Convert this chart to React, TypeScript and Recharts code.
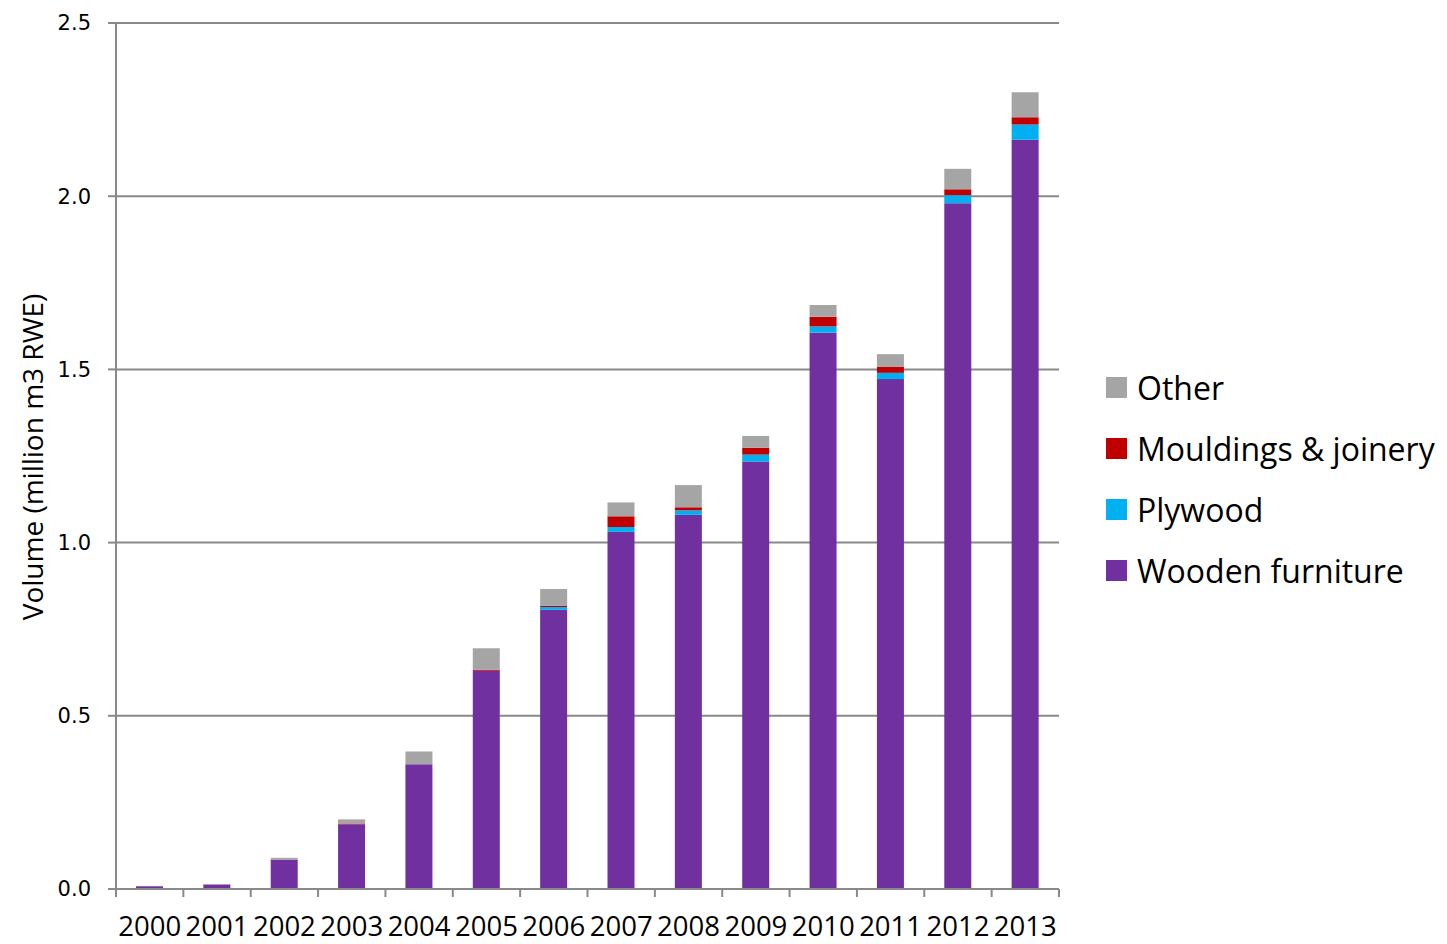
import React from 'react';
import { BarChart, Bar, XAxis, YAxis, CartesianGrid } from 'recharts';

// Years on the category axis
const years = ['2000', '2001', '2002', '2003', '2004', '2005', '2006', '2007', '2008', '2009', '2010', '2011', '2012', '2013'];

// Volumes in million m3 RWE
const woodenFurniture = [0.008, 0.013, 0.085, 0.187, 0.36, 0.63, 0.806, 1.031, 1.08, 1.234, 1.606, 1.472, 1.98, 2.163];
const plywood = [0, 0, 0, 0, 0, 0, 0.008, 0.014, 0.013, 0.02, 0.018, 0.018, 0.023, 0.044];
const mouldings = [0, 0, 0, 0.002, 0, 0.003, 0.004, 0.031, 0.009, 0.02, 0.028, 0.018, 0.017, 0.021];
const other = [0.001, 0.001, 0.005, 0.012, 0.037, 0.062, 0.048, 0.04, 0.064, 0.034, 0.034, 0.036, 0.059, 0.072];

const yTicks = [0, 0.5, 1.0, 1.5, 2.0, 2.5];

const series = [
  { key: 'furniture', name: 'Wooden furniture', color: '#7030A0', values: woodenFurniture },
  { key: 'plywood', name: 'Plywood', color: '#00B0F0', values: plywood },
  { key: 'mouldings', name: 'Mouldings & joinery', color: '#C00000', values: mouldings },
  { key: 'other', name: 'Other', color: '#A5A5A5', values: other },
];

const data = years.map((year, i) => {
  const row: Record<string, string | number> = { year };
  series.forEach((s) => {
    row[s.key] = s.values[i];
  });
  return row;
});

const W = 1447;
const H = 944;
const M = { top: 23, right: 388, left: 0, bottom: 0 };
const Y_AXIS_W = 116;
const X_AXIS_H = 55;
const plotW = W - M.left - M.right - Y_AXIS_W;
const band = plotW / years.length;
const GRID = '#898989';

// Excel style: tick marks sit between categories, label in the middle
const XTick = (props: any) => {
  const { x, y, payload, index } = props;
  const left = x - band / 2;
  const axisY = y - 8;
  return (
    <g>
      <line x1={left} y1={axisY} x2={left} y2={axisY + 8} stroke={GRID} strokeWidth={2} />
      {index === years.length - 1 && (
        <line x1={left + band} y1={axisY} x2={left + band} y2={axisY + 8} stroke={GRID} strokeWidth={2} />
      )}
      <text x={x} y={axisY + 47} textAnchor="middle" fontFamily="'Open Sans', sans-serif" fontSize={27.5} fill="#000">
        {payload.value}
      </text>
    </g>
  );
};

const YLabel = () => (
  <text
    x={32}
    y={457}
    transform="rotate(-90 32 457)"
    textAnchor="middle"
    dominantBaseline="central"
    fontFamily="'Liberation Sans Narrow', 'Open Sans', sans-serif"
    fontSize={28}
    fill="#000"
  >
    Volume (million m3 RWE)
  </text>
);

const legendItems = [...series].reverse();

export default function App() {
  return (
    <div style={{ position: 'absolute', left: 0, top: 0, width: W, height: H, background: '#fff' }}>
      <BarChart width={W} height={H} data={data} margin={M} barSize={27}>
        <CartesianGrid vertical={false} stroke={GRID} strokeWidth={2} />
        <XAxis
          dataKey="year"
          height={X_AXIS_H}
          axisLine={{ stroke: GRID, strokeWidth: 2 }}
          tickLine={false}
          tick={<XTick />}
          interval={0}
        />
        <YAxis
          width={Y_AXIS_W}
          domain={[0, 2.5]}
          ticks={yTicks}
          interval={0}
          axisLine={{ stroke: GRID, strokeWidth: 2 }}
          tickLine={{ stroke: GRID, strokeWidth: 2 }}
          tickSize={8}
          tickMargin={17}
          tickFormatter={(v: number) => v.toFixed(1)}
          tick={{ fontFamily: "'DejaVu Sans', sans-serif", fontSize: 21, fill: '#000' }}
          label={<YLabel />}
        />
        {series.map((s) => (
          <Bar key={s.key} dataKey={s.key} name={s.name} stackId="a" fill={s.color} isAnimationActive={false} />
        ))}
      </BarChart>
      <div style={{ position: 'absolute', left: 1106, top: 357 }}>
        {legendItems.map((s) => (
          <div key={s.key} style={{ display: 'flex', alignItems: 'center', height: 61 }}>
            <span style={{ display: 'inline-block', width: 21, height: 21, background: s.color, marginRight: 10 }} />
            <span style={{ fontFamily: "'Open Sans', sans-serif", fontSize: 32, color: '#000', whiteSpace: 'nowrap' }}>
              {s.name}
            </span>
          </div>
        ))}
      </div>
    </div>
  );
}
